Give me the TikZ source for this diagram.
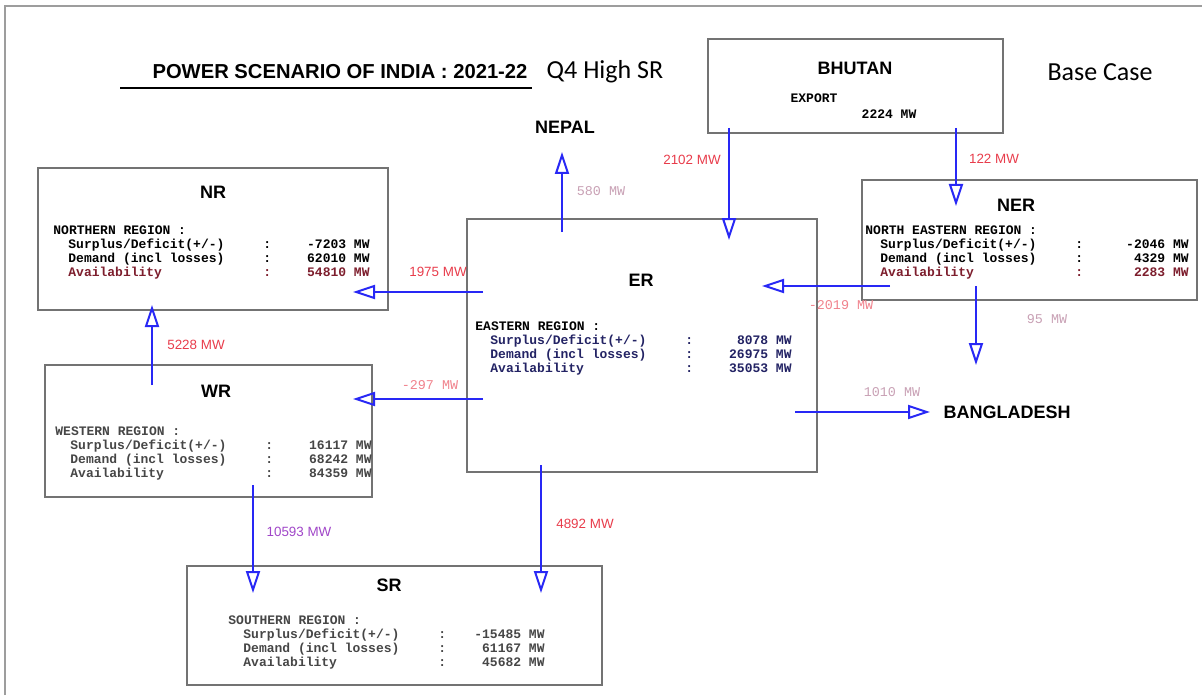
\documentclass[tikz,border=0pt]{standalone}
\usepackage{fontspec}
\setmainfont{Liberation Sans}
\setmonofont{Liberation Mono}
\newfontfamily\calibri{Carlito}
\usetikzlibrary{arrows.meta}

\definecolor{flowblue}{RGB}{40,40,245}
\definecolor{flowred}{RGB}{232,60,75}
\definecolor{flowpink}{RGB}{240,130,140}
\definecolor{flowpale}{RGB}{200,160,180}
\definecolor{flowpurple}{RGB}{160,70,200}
\definecolor{availred}{RGB}{125,30,45}
\definecolor{ernavy}{RGB}{35,35,100}
\definecolor{wrgray}{RGB}{70,70,70}
\definecolor{boxgray}{RGB}{115,115,115}

% Zeile im Regionskasten: Bezeichnung, Doppelpunkt, Wert rechtsbuendig, MW
\newcommand{\regrow}[3][135pt]{\hspace*{7.5pt}\makebox[97.5pt][l]{#2}:\makebox[\dimexpr#1-97.5pt\relax][r]{#3}~MW}

\tikzset{
  regionbox/.style={draw=boxgray, line width=1pt},
  regiontitle/.style={font=\bfseries\fontsize{9}{10}\selectfont},
  regiontext/.style={font=\ttfamily\bfseries\fontsize{6.5}{7}\selectfont, align=left, anchor=north west, inner sep=0pt},
  countrylabel/.style={font=\bfseries\fontsize{9}{10}\selectfont},
  flow/.style={flowblue, line width=1pt, -{Triangle[open, length=11pt, width=7pt]}},
  flowlabel/.style={font=\fontsize{6.7}{8}\selectfont, text=flowred},
  flowmono/.style={font=\ttfamily\fontsize{6.7}{8}\selectfont, text=flowpale},
}

\begin{document}
\begin{tikzpicture}[x=0.5pt, y=-0.5pt]
  \useasboundingbox (0,0) rectangle (1202,695);
  % Aussenrahmen
  \draw[boxgray!70, line width=0.6pt] (5,695) -- (5,6) -- (1202,6);
  % Kopfzeile
  \node[font=\bfseries\fontsize{10.1}{11}\selectfont] (title) at (340,72) {POWER SCENARIO OF INDIA : 2021-22};
  \draw[black, line width=0.6pt] (120,88) -- (532,88);
  \node[font=\calibri\fontsize{13}{15}\selectfont] (scenario) at (605,72) {Q4 High SR};
  \node[font=\calibri\fontsize{13}{15}\selectfont] (basecase) at (1100,72) {Base Case};

  % Kaesten der Regionen
  \draw[regionbox] (708,39) rectangle (1003,133);   % BHUTAN
  \draw[regionbox] (38,168) rectangle (388,310);    % NR
  \draw[regionbox] (862,180) rectangle (1197,300);  % NER
  \draw[regionbox] (467,219) rectangle (817,472);   % ER
  \draw[regionbox] (45,365) rectangle (372,497);    % WR
  \draw[regionbox] (187,566) rectangle (602,685);   % SR

  % BHUTAN
  \node[regiontitle] (bhutan) at (855,68) {BHUTAN};
  \node[regiontext, anchor=center] (bhutan-exp) at (814,98) {EXPORT};
  \node[regiontext, anchor=center] (bhutan-mw) at (889,114) {2224 MW};

  % NR
  \node[regiontitle] (nr) at (213,192) {NR};
  \node[regiontext] (nr-text) at (53,225) {NORTHERN REGION :\\
    \regrow{Surplus/Deficit(+/-)}{-7203}\\
    \regrow{Demand (incl losses)}{62010}\\
    \textcolor{availred}{\regrow{Availability}{54810}}};

  % NER
  \node[regiontitle] (ner) at (1016,205) {NER};
  \node[regiontext] (ner-text) at (865,225) {NORTH EASTERN REGION :\\
    \regrow[138.5pt]{Surplus/Deficit(+/-)}{-2046}\\
    \regrow[138.5pt]{Demand (incl losses)}{4329}\\
    \textcolor{availred}{\regrow[138.5pt]{Availability}{2283}}};

  % ER
  \node[regiontitle] (er) at (641,280) {ER};
  \node[regiontext] (er-text) at (475,321) {EASTERN REGION :\\
    \textcolor{ernavy}{\regrow{Surplus/Deficit(+/-)}{8078}}\\
    \textcolor{ernavy}{\regrow{Demand (incl losses)}{26975}}\\
    \textcolor{ernavy}{\regrow{Availability}{35053}}};

  % WR
  \node[regiontitle] (wr) at (216,391) {WR};
  \node[regiontext, text=wrgray] (wr-text) at (55,426) {WESTERN REGION :\\
    \regrow{Surplus/Deficit(+/-)}{16117}\\
    \regrow{Demand (incl losses)}{68242}\\
    \regrow{Availability}{84359}};

  % SR
  \node[regiontitle] (sr) at (389,585) {SR};
  \node[regiontext, text=wrgray] (sr-text) at (228,615) {SOUTHERN REGION :\\
    \regrow{Surplus/Deficit(+/-)}{-15485}\\
    \regrow{Demand (incl losses)}{61167}\\
    \regrow{Availability}{45682}};

  % Nachbarlaender
  \node[countrylabel] (nepal) at (565,127) {NEPAL};
  \node[countrylabel] (bangladesh) at (1007,412) {BANGLADESH};

  % Endpunkte der Fluesse
  \coordinate (er-nr-a) at (483,292);   \coordinate (er-nr-b) at (353,292);
  \coordinate (er-wr-a) at (483,399);   \coordinate (er-wr-b) at (353,399);
  \coordinate (er-np-a) at (562,232);   \coordinate (er-np-b) at (562,152);
  \coordinate (bt-er-a) at (729,128);   \coordinate (bt-er-b) at (729,240);
  \coordinate (bt-ne-a) at (956,128);   \coordinate (bt-ne-b) at (956,206);
  \coordinate (ne-er-a) at (890,286);   \coordinate (ne-er-b) at (762,286);
  \coordinate (ne-bd-a) at (976,286);   \coordinate (ne-bd-b) at (976,365);
  \coordinate (er-bd-a) at (795,412);   \coordinate (er-bd-b) at (930,412);
  \coordinate (wr-nr-a) at (152,385);   \coordinate (wr-nr-b) at (152,305);
  \coordinate (wr-sr-a) at (253,485);   \coordinate (wr-sr-b) at (253,593);
  \coordinate (er-sr-a) at (541,465);   \coordinate (er-sr-b) at (541,593);

  % Fluesse
  \draw[flow] (er-nr-a) -- (er-nr-b);
  \draw[flow] (er-wr-a) -- (er-wr-b);
  \draw[flow] (er-np-a) -- (er-np-b);
  \draw[flow] (bt-er-a) -- (bt-er-b);
  \draw[flow] (bt-ne-a) -- (bt-ne-b);
  \draw[flow] (ne-er-a) -- (ne-er-b);
  \draw[flow] (ne-bd-a) -- (ne-bd-b);
  \draw[flow] (er-bd-a) -- (er-bd-b);
  \draw[flow] (wr-nr-a) -- (wr-nr-b);
  \draw[flow] (wr-sr-a) -- (wr-sr-b);
  \draw[flow] (er-sr-a) -- (er-sr-b);

  % Beschriftung der Fluesse
  \node[flowlabel] (f-er-nr) at (438,272) {1975 MW};
  \node[flowmono, text=flowpink] (f-er-wr) at (430,385) {-297 MW};
  \node[flowmono] (f-er-np) at (601,191) {580 MW};
  \node[flowlabel] (f-bt-er) at (692,160) {2102 MW};
  \node[flowlabel] (f-bt-ne) at (994,159) {122 MW};
  \node[flowmono, text=flowpink] (f-ne-er) at (841,305) {-2019 MW};
  \node[flowmono] (f-ne-bd) at (1047,319) {95 MW};
  \node[flowmono] (f-er-bd) at (892,392) {1010 MW};
  \node[flowlabel] (f-wr-nr) at (196,345) {5228 MW};
  \node[flowlabel, text=flowpurple] (f-wr-sr) at (299,532) {10593 MW};
  \node[flowlabel] (f-er-sr) at (585,524) {4892 MW};
\end{tikzpicture}
\end{document}
